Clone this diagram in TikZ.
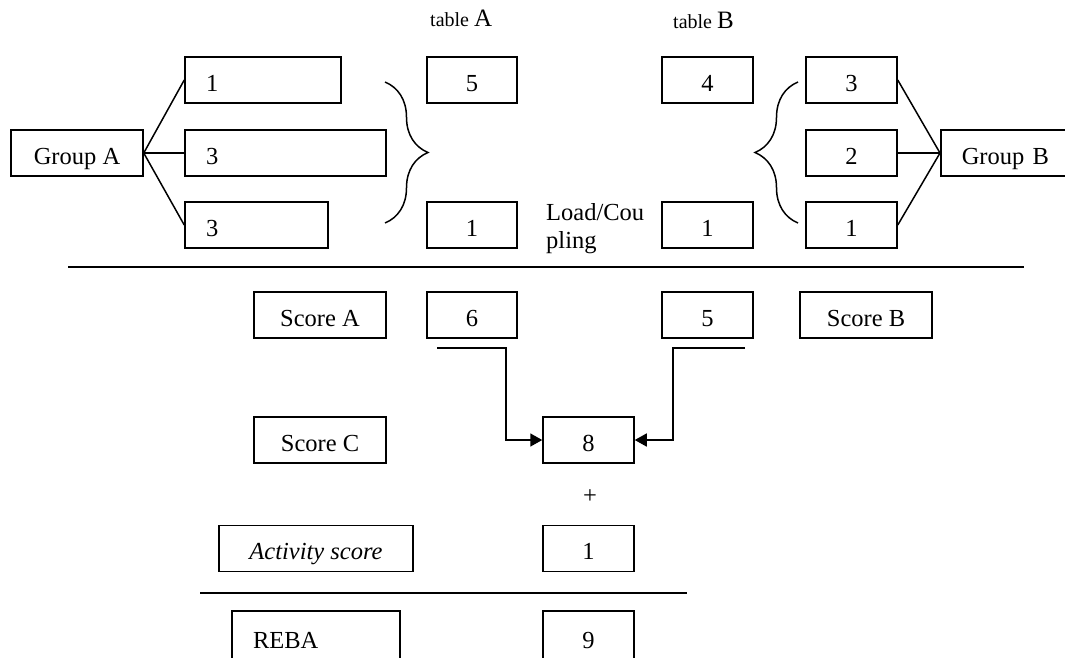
\documentclass[tikz,border=0pt]{standalone}
\usepackage{fontspec}
\setmainfont{Liberation Serif}
\usetikzlibrary{arrows.meta,decorations.pathreplacing}
\begin{document}
\begin{tikzpicture}[x=1pt,y=-1pt,
  every node/.style={font=\fontsize{24.5}{28}\selectfont},
  box/.style={draw, line width=1.5pt, inner sep=0pt, minimum height=46pt, text height=22pt, text depth=0pt},
  lbox/.style={box, align=left, inner xsep=21pt},
  rule/.style={line width=1.6pt},
  link/.style={line width=1.5pt},
  arr/.style={line width=1.6pt, -{Triangle[length=12pt,width=13pt]}},
  brc/.style={line width=1.5pt, decorate, decoration={brace, amplitude=43pt}},
  plain/.style={inner sep=0pt}
]
\useasboundingbox (0,0) rectangle (1065,657);
\clip (0,0) rectangle (1065,657);

% headers
\node[plain, anchor=base west] (tabA) at (430,26) {\fontsize{20}{24}\selectfont table \fontsize{25}{28}\selectfont A};
\node[plain, anchor=base west] (tabB) at (673,28) {\fontsize{20}{24}\selectfont table \fontsize{25}{28}\selectfont B};

% group A side
\node[box, minimum width=132pt] (gA) at (77,153) {Group A};
\node[lbox, text width=114pt] (a1) at (263,80) {1};
\node[lbox, text width=159pt] (a2) at (285.5,153) {3};
\node[lbox, text width=101pt] (a3) at (256.5,225) {3};
\draw[link] (gA.east) -- (a1.west);
\draw[link] (gA.east) -- (a2.west);
\draw[link] (gA.east) -- (a3.west);
\draw[brc] (385,82) -- (385,223);

% table A
\node[box, minimum width=90pt] (tA5) at (472,80) {5};
\node[box, minimum width=90pt] (tA1) at (472,225) {1};

% load/coupling
\node[plain, anchor=base west] (load1) at (546,220) {Load/Cou};
\node[plain, anchor=base west] (load2) at (546,248) {pling};

% table B
\node[box, minimum width=91pt] (tB4) at (707.5,80) {4};
\node[box, minimum width=91pt] (tB1) at (707.5,225) {1};

% group B side
\draw[brc] (798,223) -- (798,82);
\node[box, minimum width=91pt] (b3) at (851.5,80) {3};
\node[box, minimum width=91pt] (b2) at (851.5,153) {2};
\node[box, minimum width=91pt] (b1) at (851.5,225) {1};
\node[lbox, text width=118pt, anchor=west] (gB) at (940,153) {Group B};
\draw[link] (gB.west) -- (b3.east);
\draw[link] (gB.west) -- (b2.east);
\draw[link] (gB.west) -- (b1.east);

% rule
\coordinate (r1a) at (68,267);
\coordinate (r1b) at (1024,267);
\draw[rule] (r1a) -- (r1b);

% scores
\node[box, minimum width=132pt] (sA) at (320,315) {Score A};
\node[box, minimum width=90pt] (s6) at (472,315) {6};
\node[box, minimum width=91pt] (s5) at (707.5,315) {5};
\node[box, minimum width=132pt] (sB) at (866,315) {Score B};

\node[box, minimum width=132pt] (sC) at (320,440) {Score C};
\node[box, minimum width=91pt] (s8) at (588.5,440) {8};

\coordinate (la) at (437,348);
\coordinate (rb) at (745,348);
\draw[arr] (la) -- ++(69,0) |- (s8.west);
\draw[arr] (rb) -- ++(-72,0) |- (s8.east);

\node[plain] (plus) at (590,497) {+};

\node[box, minimum width=194pt] (act) at (316,548.5) {\itshape Activity score};
\node[box, minimum width=91pt] (act1) at (588.5,548.5) {1};

\coordinate (r2a) at (200,593);
\coordinate (r2b) at (687,593);
\draw[rule] (r2a) -- (r2b);

\node[lbox, text width=126pt, minimum height=52pt] (reba) at (316,637) {REBA};
\node[box, minimum width=91pt, minimum height=52pt] (nine) at (588.5,637) {9};
\end{tikzpicture}
\end{document}
